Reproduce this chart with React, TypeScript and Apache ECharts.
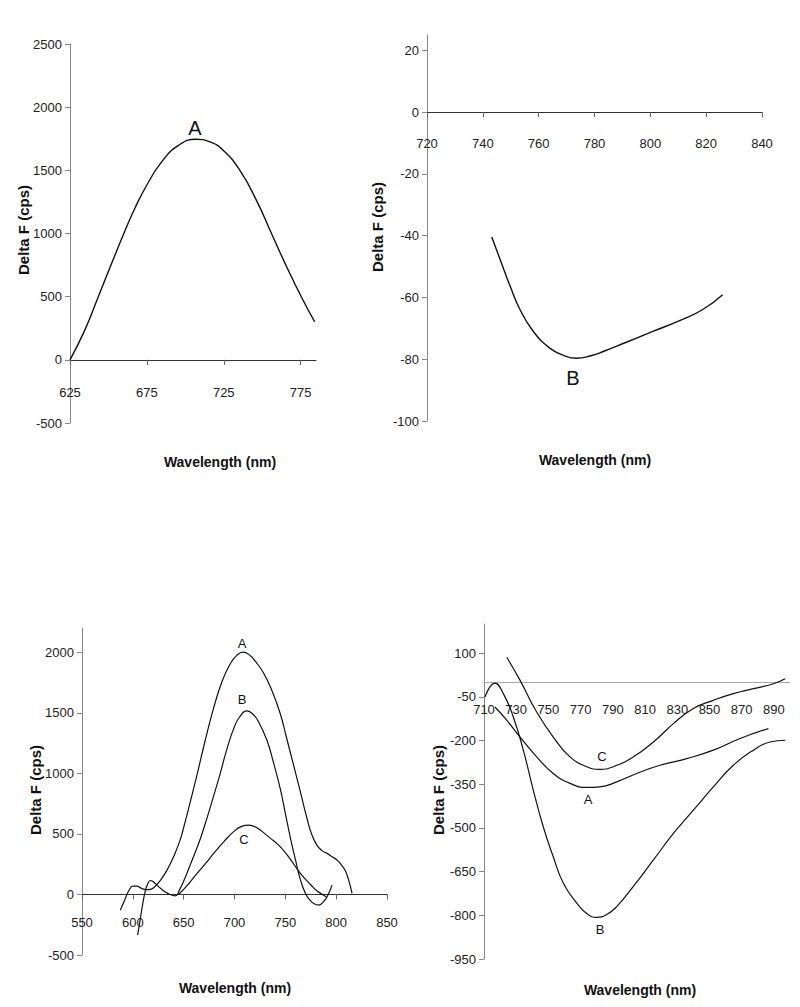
import React, { useEffect, useRef } from "react";
import * as echarts from "echarts";

// ---------- Data ----------
// Panel 1 (top-left): curve A
const p1Wavelength = [625, 634.7, 643.4, 652.1, 660.7, 667.2, 674.8, 684.5, 695.3, 706.7, 716, 724.6, 735.4, 746.2, 757, 767.9, 776.5, 784.1];
const p1CurveA = [0, 237, 500, 764, 1020, 1200, 1380, 1565, 1695, 1746, 1725, 1659, 1501, 1264, 974, 685, 474, 303];

// Panel 2 (top-right): curve B
const p2Wavelength = [743.2, 746.2, 749.8, 753.3, 758.1, 764, 769, 773.5, 779, 783.1, 791.4, 800.9, 810.5, 818.8, 825.9];
const p2CurveB = [-40.4, -47.7, -56.4, -63.9, -71, -76.4, -78.8, -79.7, -78.8, -77.5, -74.5, -71, -67.5, -63.9, -59.1];

// Panel 3 (bottom-left): curves A, B, C
const p3AWavelength = [587.7, 592, 596, 600, 604, 608, 613, 617, 621, 627, 633.6, 640, 646.7, 651, 655, 663.2, 671, 679.5, 688, 695.9, 702, 708.4, 715, 721, 728.7, 737, 745.1, 751, 758.2, 765, 771.4, 776, 781.2, 786, 791, 796, 800.9, 805, 809, 812.3, 815.6];
const p3A = [-130, -45, 30, 68, 68, 52, 40, 42, 60, 115, 200, 310, 455, 585, 715, 990, 1265, 1540, 1765, 1905, 1972, 2000, 1975, 1920, 1826, 1680, 1490, 1300, 1065, 840, 625, 495, 405, 362, 339, 312, 283, 245, 195, 118, 8];
const p3BWavelength = [604.7, 607, 609.5, 612, 614.5, 617.3, 620, 624, 628, 632, 636, 641.8, 646, 651, 656, 661, 666.4, 672, 679, 686, 692, 699, 705, 712.3, 718, 724, 731.8, 738, 745.1, 750, 754.9, 760, 764.8, 769.7, 774, 778, 782.8, 787, 791, 795.9];
const p3B = [-336, -220, -90, 20, 85, 115, 105, 75, 45, 20, 2, -11, 40, 130, 235, 340, 460, 605, 800, 1000, 1185, 1365, 1465, 1515, 1490, 1420, 1275, 1100, 870, 670, 470, 285, 122, 10, -45, -75, -88, -65, -20, 77];
const p3CWavelength = [645, 652, 663.2, 672, 679.5, 690, 700, 707, 714, 722, 730, 738, 745.1, 755, 764.8, 775, 781, 787.7, 790];
const p3C = [0, 60, 174, 260, 339, 440, 525, 562, 573, 550, 500, 445, 393, 290, 174, 80, 30, -6, -20];

// Panel 4 (bottom-right): curves A, B, C
const p4AWavelength = [716.8, 724.1, 732.4, 742.7, 753, 763.4, 773.8, 782, 792.4, 804.8, 819.3, 835.9, 852.4, 869, 886.6];
const p4A = [-85, -130, -188, -256, -313, -347, -361, -359, -342, -313, -285, -262, -233, -193, -159];
const p4BWavelength = [710.6, 716.8, 722, 728.2, 734.4, 740.6, 746.8, 753, 759.3, 767.6, 774, 780, 786, 792.4, 802.7, 815.2, 827.6, 840, 852.4, 864.8, 877.3, 887.6, 897];
const p4B = [-51, -3, -39, -119, -233, -370, -496, -599, -690, -758, -795, -807, -798, -770, -701, -610, -519, -439, -359, -285, -233, -205, -199];
const p4CWavelength = [724.1, 732.4, 742.7, 753, 763.4, 773.8, 782, 790.3, 802.8, 815.2, 827.6, 840, 852.4, 864.8, 877.3, 889.7, 897];
const p4C = [86, 6.5, -102, -188, -256, -290, -299, -290, -256, -205, -142, -90, -62, -39, -22, -5, 12];

// Tick labels
const p1XTicks = [625, 675, 725, 775];
const p1YTicks = [-500, 0, 500, 1000, 1500, 2000, 2500];
const p2XTicks = [720, 740, 760, 780, 800, 820, 840];
const p2YTicks = [-100, -80, -60, -40, -20, 0, 20];
const p3XTicks = [550, 600, 650, 700, 750, 800, 850];
const p3YTicks = [-500, 0, 500, 1000, 1500, 2000];
const p4XTicks = [710, 730, 750, 770, 790, 810, 830, 850, 870, 890];
const p4YTicks = [-950, -800, -650, -500, -350, -200, -50, 100];

const yTitle = "Delta F (cps)";
const xTitle = "Wavelength (nm)";

const sans = "'Liberation Sans', Arial, sans-serif";
const tickFont = "'Liberation Sans Narrow', 'Liberation Sans', Arial, sans-serif";

type GridBox = { left: number; top: number; width: number; height: number };
const grids: GridBox[] = [
  { left: 70, top: 44, width: 246, height: 379 },
  { left: 427, top: 35, width: 335, height: 386 },
  { left: 82, top: 628, width: 305, height: 327 },
  { left: 484, top: 624, width: 306, height: 335 },
];
const yRanges = [
  [-500, 2500],
  [-100, 25],
  [-500, 2200],
  [-950, 200],
];

function zip(xs: number[], ys: number[]) {
  return xs.map((x, i) => [x, ys[i]]);
}

const fmt = (v: number) => String(v);

function xAxisDef(grid: number, min: number, max: number, ticks: number[], margin: number, lineColor: string, showTick = true) {
  const [ymin, ymax] = yRanges[grid];
  // place the x axis at y = 0 of its value axis
  const offset = -((0 - ymin) / (ymax - ymin)) * grids[grid].height;
  return {
    type: "value",
    gridIndex: grid,
    position: "bottom",
    offset,
    min,
    max,
    axisLine: { show: true, onZero: false, lineStyle: { color: lineColor, width: 1 } },
    axisTick: { show: showTick, customValues: ticks, length: 5, lineStyle: { color: "#666" } },
    axisLabel: { customValues: ticks, margin, formatter: fmt, fontFamily: tickFont, fontSize: 13, color: "#222" },
    splitLine: { show: false },
  };
}

function yAxisDef(grid: number, ticks: number[]) {
  const [min, max] = yRanges[grid];
  return {
    type: "value",
    gridIndex: grid,
    min,
    max,
    axisLine: { show: true, onZero: false, lineStyle: { color: "#888", width: 1 } },
    axisTick: { show: true, customValues: ticks, length: 5, lineStyle: { color: "#888" } },
    axisLabel: { customValues: ticks, margin: 8, formatter: fmt, fontFamily: tickFont, fontSize: 13, color: "#222" },
    splitLine: { show: false },
  };
}

function lineSeries(x: number, data: number[][], width = 1.3) {
  return {
    type: "line",
    xAxisIndex: x,
    yAxisIndex: x,
    data,
    smooth: 0.5,
    showSymbol: false,
    symbol: "none",
    lineStyle: { color: "#111", width },
    silent: true,
  };
}

function label(text: string, x: number, y: number, size: number) {
  return {
    type: "text",
    x,
    y,
    style: { text, font: `${size}px ${sans}`, fill: "#111", textAlign: "center", textVerticalAlign: "middle", align: "center", verticalAlign: "middle" },
  };
}

function yTitleText(x: number, y: number) {
  return {
    type: "text",
    x,
    y,
    rotation: Math.PI / 2,
    style: { text: yTitle, font: `bold 15px ${sans}`, fill: "#111", textAlign: "center", textVerticalAlign: "middle", align: "center", verticalAlign: "middle" },
  };
}

function xTitleText(x: number, y: number) {
  return {
    type: "text",
    x,
    y,
    style: { text: xTitle, font: `bold 14px ${sans}`, fill: "#111", textAlign: "center", textVerticalAlign: "middle", align: "center", verticalAlign: "middle" },
  };
}

export default function App() {
  const ref = useRef<HTMLDivElement>(null);
  useEffect(() => {
    if (!ref.current) return;
    const chart = echarts.init(ref.current, null, { renderer: "svg" });
    chart.setOption({
      animation: false,
      backgroundColor: "#fff",
      grid: grids.map((g) => ({ ...g })),
      xAxis: [
        xAxisDef(0, 625, 785, p1XTicks, 26, "#333"),
        xAxisDef(1, 720, 840, p2XTicks, 25, "#333"),
        xAxisDef(2, 550, 850, p3XTicks, 22, "#333"),
        xAxisDef(3, 710, 900, p4XTicks, 21, "#aaa", false),
      ],
      yAxis: [
        yAxisDef(0, p1YTicks),
        yAxisDef(1, p2YTicks),
        yAxisDef(2, p3YTicks),
        yAxisDef(3, p4YTicks),
      ],
      series: [
        lineSeries(0, zip(p1Wavelength, p1CurveA), 1.4),
        lineSeries(1, zip(p2Wavelength, p2CurveB), 1.4),
        lineSeries(2, zip(p3AWavelength, p3A), 1.2),
        lineSeries(2, zip(p3BWavelength, p3B), 1.2),
        lineSeries(2, zip(p3CWavelength, p3C), 1.2),
        lineSeries(3, zip(p4AWavelength, p4A), 1.2),
        lineSeries(3, zip(p4BWavelength, p4B), 1.2),
        lineSeries(3, zip(p4CWavelength, p4C), 1.2),
      ],
      graphic: [
        label("A", 195, 128, 20),
        label("B", 573, 378, 20),
        label("A", 242, 643, 13),
        label("B", 242, 699, 13),
        label("C", 244, 839, 13),
        label("C", 602, 756, 13),
        label("A", 588, 799, 13),
        label("B", 600, 929, 13),
        yTitleText(23, 230),
        yTitleText(377, 227),
        yTitleText(35, 790),
        yTitleText(438, 790),
        xTitleText(220, 462),
        xTitleText(595, 460),
        xTitleText(235, 988),
        xTitleText(640, 990),
      ],
    });
    return () => chart.dispose();
  }, []);
  return <div ref={ref} style={{ position: "absolute", left: 0, top: 0, width: 800, height: 1007, background: "#fff" }} />;
}
